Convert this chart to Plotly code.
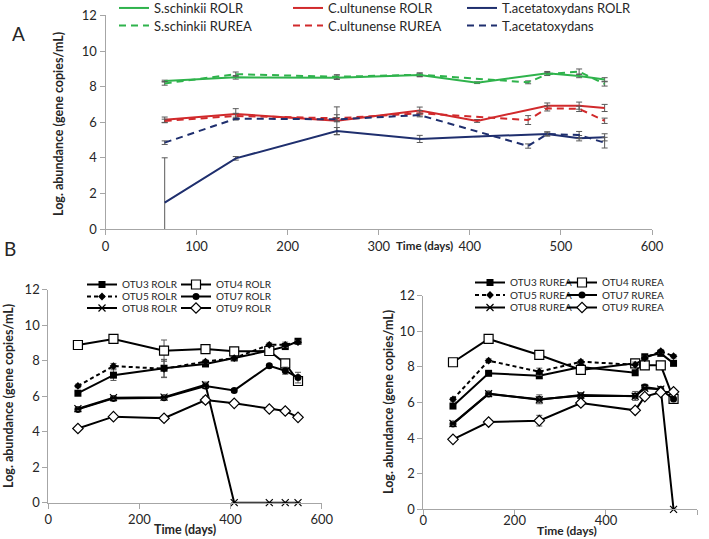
import plotly.graph_objects as go

# sampling days
days_rolr = [65, 143, 254, 345, 408, 485, 520, 548]
days_rurea = [65, 143, 254, 345, 464, 485, 520, 548]

# panel A: log abundance (gene copies/mL)
ss_rolr = [8.31, 8.52, 8.50, 8.65, 8.22, 8.75, 8.60, 8.40]
ss_rurea = [8.18, 8.70, 8.55, 8.67, 8.24, 8.70, 8.84, 8.15]
cu_rolr = [6.14, 6.46, 6.08, 6.65, 6.07, 6.93, 6.93, 6.80]
cu_rurea = [6.07, 6.35, 6.22, 6.50, 6.12, 6.78, 6.75, 6.08]
ta_rolr = [1.48, 3.97, 5.50, 5.06, 5.19, 5.34, 5.10, 5.15]
ta_rurea = [4.85, 6.20, 6.16, 6.40, 4.66, 5.34, 5.28, 4.85]

ss_rolr_err = [0.05, 0.10, 0.10, 0.10, 0.05, 0.10, 0.10, 0.10]
ss_rurea_err = [0.10, 0.12, 0.12, 0.10, 0.08, 0.08, 0.15, 0.12]
cu_rolr_err = [0.15, 0.30, 0.78, 0.20, 0.08, 0.15, 0.20, 0.20]
cu_rurea_err = [0.10, 0.15, 0.20, 0.15, 0.25, 0.15, 0.15, 0.15]
ta_rolr_err = [2.52, 0.10, 0.20, 0.20, 0.00, 0.10, 0.15, 0.20]
ta_rurea_err = [0.10, 0.08, 0.10, 0.10, 0.12, 0.12, 0.20, 0.30]

# panel B left: ROLR OTUs
otu3_rolr = [6.17, 7.19, 7.58, 7.82, 8.16, 8.57, 8.80, 9.10]
otu4_rolr = [8.89, 9.23, 8.57, 8.66, 8.53, 8.55, 7.85, 6.86]
otu5_rolr = [6.58, 7.70, 7.55, 7.95, 8.15, 8.90, 8.90, 9.05]
otu7_rolr = [5.26, 5.88, 5.92, 6.58, 6.33, 7.72, 7.44, 7.05]
otu8_rolr = [5.30, 5.92, 5.95, 6.65, 0.00, 0.00, 0.00, 0.00]
otu9_rolr = [4.18, 4.85, 4.76, 5.79, 5.60, 5.28, 5.17, 4.81]

otu3_rolr_err = [0.10, 0.30, 0.50, 0.10, 0.10, 0.10, 0.10, 0.10]
otu4_rolr_err = [0.10, 0.10, 0.60, 0.10, 0.10, 0.10, 0.10, 0.10]
otu5_rolr_err = [0.10, 0.15, 0.50, 0.10, 0.10, 0.10, 0.15, 0.10]
otu7_rolr_err = [0.10, 0.10, 0.10, 0.15, 0.10, 0.10, 0.20, 0.30]
otu8_rolr_err = [0.10, 0.10, 0.10, 0.15, 0.00, 0.00, 0.00, 0.00]
otu9_rolr_err = [0.05, 0.10, 0.15, 0.20, 0.05, 0.05, 0.10, 0.05]

# panel B right: RUREA OTUs
otu3_rurea = [5.80, 7.64, 7.50, 8.00, 7.67, 8.57, 8.76, 8.20]
otu4_rurea = [8.26, 9.57, 8.67, 7.83, 8.20, 8.09, 8.09, 6.20]
otu5_rurea = [6.18, 8.35, 7.73, 8.29, 8.12, 8.50, 8.88, 8.60]
otu7_rurea = [4.79, 6.48, 6.18, 6.38, 6.37, 6.87, 6.74, 6.20]
otu8_rurea = [4.82, 6.50, 6.15, 6.42, 6.35, 6.80, 6.75, 0.00]
otu9_rurea = [3.93, 4.90, 4.98, 5.97, 5.56, 6.33, 6.57, 6.60]

otu3_rurea_err = [0.10, 0.10, 0.15, 0.10, 0.10, 0.10, 0.10, 0.10]
otu4_rurea_err = [0.10, 0.10, 0.20, 0.10, 0.10, 0.10, 0.10, 0.10]
otu5_rurea_err = [0.10, 0.10, 0.20, 0.10, 0.15, 0.10, 0.10, 0.10]
otu7_rurea_err = [0.10, 0.15, 0.25, 0.15, 0.25, 0.15, 0.10, 0.10]
otu8_rurea_err = [0.10, 0.10, 0.10, 0.10, 0.10, 0.10, 0.10, 0.00]
otu9_rurea_err = [0.05, 0.10, 0.30, 0.15, 0.10, 0.10, 0.10, 0.10]

GREEN = "#2fb34c"
RED = "#d12a2c"
NAVY = "#1f2f6e"
FONT = "Lato"
W, H = 709, 539


def px_x(p):
    return p / W


def px_y(p):
    return 1 - p / H


def err(arr):
    return dict(type="data", array=arr, color="#595959", thickness=1, width=3)


def leg(x, y, size, ew=0):
    return dict(
        orientation="h", x=px_x(x), y=px_y(y), xanchor="left", yanchor="middle",
        entrywidth=ew, bgcolor="rgba(0,0,0,0)", font=dict(family=FONT, size=size, color="#262626"),
        itemwidth=30, traceorder="normal"
    )


fig = go.Figure()
legends = {}

# panel A
legends["legend"] = leg(114, 8, 13, 129)
legends["legend2"] = leg(114, 25.5, 13, 129)
top = [
    ("S.schinkii ROLR", days_rolr, ss_rolr, ss_rolr_err, GREEN, "solid", "legend"),
    ("C.ultunense ROLR", days_rolr, cu_rolr, cu_rolr_err, RED, "solid", "legend"),
    ("T.acetatoxydans ROLR", days_rolr, ta_rolr, ta_rolr_err, NAVY, "solid", "legend"),
    ("S.schinkii RUREA", days_rurea, ss_rurea, ss_rurea_err, GREEN, "7px,5px", "legend2"),
    ("C.ultunense RUREA", days_rurea, cu_rurea, cu_rurea_err, RED, "7px,5px", "legend2"),
    ("T.acetatoxydans", days_rurea, ta_rurea, ta_rurea_err, NAVY, "7px,5px", "legend2"),
]
for name, x, y, e, c, dash, lg in top:
    fig.add_trace(go.Scatter(
        x=x, y=y, name=name, mode="lines", error_y=err(e),
        line=dict(color=c, width=2, dash=dash), legend=lg,
        xaxis="x", yaxis="y"
    ))

# panel B
markers = {
    "OTU3": dict(symbol="square", size=7, color="black"),
    "OTU4": dict(symbol="square", size=9, color="white", line=dict(color="black", width=1.2)),
    "OTU5": dict(symbol="diamond", size=6, color="black"),
    "OTU7": dict(symbol="circle", size=7, color="black"),
    "OTU8": dict(symbol="x-thin", size=7, color="black", line=dict(color="black", width=1.2)),
    "OTU9": dict(symbol="diamond", size=8, color="white", line=dict(color="black", width=1.2)),
}

n_leg = [3]


def add_otus(tag, days, series, xa, ya, cols, rows):
    for i, (otu, y, e) in enumerate(series):
        name = f"legend{n_leg[0]}"
        n_leg[0] += 1
        legends[name] = leg(cols[i % 2], rows[i // 2], 10)
        fig.add_trace(go.Scatter(
            x=days, y=y, name=f"{otu} {tag}", mode="lines+markers",
            error_y=err(e), marker=markers[otu], cliponaxis=False,
            line=dict(color="black", width=2, dash="4px,3px" if otu == "OTU5" else "solid"),
            legend=name, xaxis=xa, yaxis=ya
        ))


add_otus("ROLR", days_rolr, [
    ("OTU3", otu3_rolr, otu3_rolr_err), ("OTU4", otu4_rolr, otu4_rolr_err),
    ("OTU5", otu5_rolr, otu5_rolr_err), ("OTU7", otu7_rolr, otu7_rolr_err),
    ("OTU8", otu8_rolr, otu8_rolr_err), ("OTU9", otu9_rolr, otu9_rolr_err),
], "x2", "y2", [82, 176], [284.5, 296.5, 308])

add_otus("RUREA", days_rurea, [
    ("OTU3", otu3_rurea, otu3_rurea_err), ("OTU4", otu4_rurea, otu4_rurea_err),
    ("OTU5", otu5_rurea, otu5_rurea_err), ("OTU7", otu7_rurea, otu7_rurea_err),
    ("OTU8", otu8_rurea, otu8_rurea_err), ("OTU9", otu9_rurea, otu9_rurea_err),
], "x3", "y3", [470, 562], [282.5, 295, 307.5])

axis_style = dict(
    showline=True, linecolor="#a6a6a6", linewidth=1, ticks="outside",
    ticklen=5, tickcolor="#a6a6a6", showgrid=False, zeroline=False,
    tickfont=dict(family=FONT, size=13, color="#262626")
)

fig.update_layout(
    width=W, height=H, margin=dict(l=0, r=0, t=0, b=0, autoexpand=False),
    paper_bgcolor="white", plot_bgcolor="white",
    xaxis=dict(domain=[px_x(105.5), px_x(652)], range=[0, 600], dtick=100, anchor="y", **axis_style),
    yaxis=dict(domain=[px_y(229), px_y(15.4)], range=[0, 12], dtick=2, anchor="x", **axis_style),
    xaxis2=dict(domain=[px_x(48.3), px_x(321.7)], range=[0, 600], dtick=200, anchor="y2", **axis_style),
    yaxis2=dict(domain=[px_y(502.7), px_y(289.8)], range=[0, 12], dtick=2, anchor="x2", **axis_style),
    xaxis3=dict(domain=[px_x(423.3), px_x(697.3)], range=[0, 600], dtick=200, anchor="y3",
                ticklabelstandoff=-6, **axis_style),
    yaxis3=dict(domain=[px_y(509.3), px_y(295.7)], range=[0, 12], dtick=2, anchor="x3", **axis_style),
    **legends,
)

ytitle = "<b>Log. abundance (gene copies/mL)</b>"
notes = [
    dict(x=px_x(58), y=px_y(124), text=ytitle, textangle=-90, size=12.5),
    dict(x=px_x(8), y=px_y(396), text=ytitle, textangle=-90, size=12.5),
    dict(x=px_x(388), y=px_y(402), text=ytitle, textangle=-90, size=12.5),
    dict(x=px_x(425), y=px_y(246), text="<b>Time (days)</b>", textangle=0, size=11.5),
    dict(x=px_x(185), y=px_y(529), text="<b>Time (days)</b>", textangle=0, size=12.5),
    dict(x=px_x(567), y=px_y(530), text="<b>Time (days)</b>", textangle=0, size=12),
    dict(x=px_x(18), y=px_y(34), text="A", textangle=0, size=19),
    dict(x=px_x(10), y=px_y(249), text="B", textangle=0, size=19),
]
for n in notes:
    fig.add_annotation(
        x=n["x"], y=n["y"], xref="paper", yref="paper", text=n["text"],
        textangle=n["textangle"], showarrow=False, xanchor="center", yanchor="middle",
        font=dict(family=FONT, size=n["size"], color="#262626")
    )

# drop the browser's default body margin so the figure sits at the window origin
fig.write_html(
    "out.html", config={"displayModeBar": False},
    post_script="document.body.style.margin='0';"
)
